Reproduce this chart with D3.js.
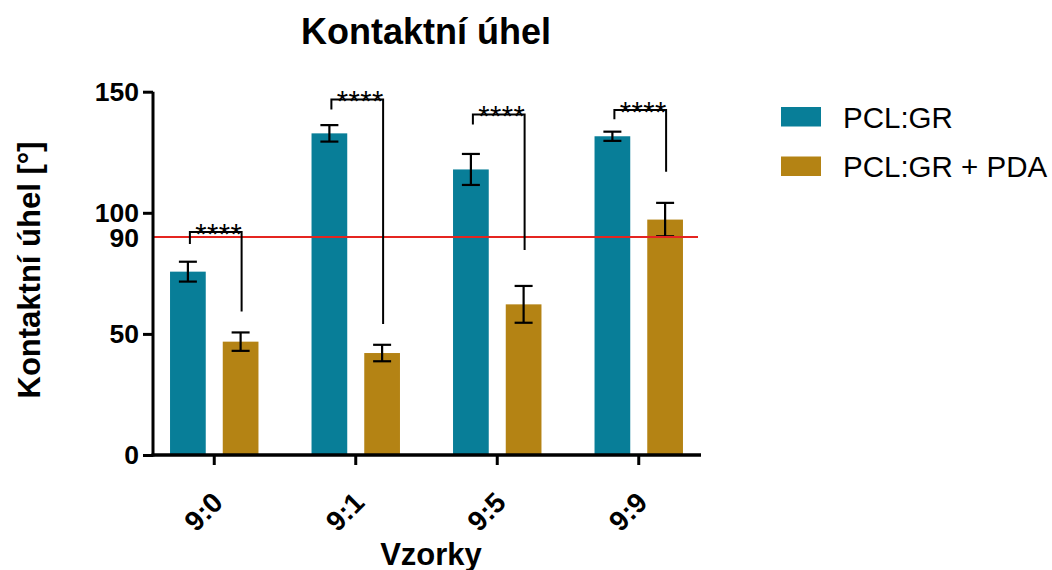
<!DOCTYPE html>
<html><head><meta charset="utf-8">
<script src="https://cdn.jsdelivr.net/npm/d3@7/dist/d3.min.js"></script>
<style>body{margin:0;background:#fff}svg{display:block}text{font-family:"Liberation Sans",Arial,sans-serif}</style>
</head><body>
<svg id="c" width="1052" height="570"></svg>
<script>
const categories = ["9:0", "9:1", "9:5", "9:9"];
const seriesNames = ["PCL:GR", "PCL:GR + PDA"];
const meanPCL = [75.7, 132.8, 117.9, 131.6];
const errPCL = [4.1, 3.4, 6.4, 1.9];
const meanPDA = [46.8, 42.1, 62.2, 97.2];
const errPDA = [3.8, 3.4, 7.6, 6.9];
const yTicks = [0, 50, 100, 150];
const refValue = 90;
const sigLabels = ["****", "****", "****", "****"];
const bracketTop = [92.1, 146.8, 140.6, 142.4];
const bracketLeftEnd = [87.1, 142.7, 136.5, 138.6];
const bracketRightEnd = [59.2, 54.1, 84.6, 117.0];
const colors = ["#087E98", "#B48314"];

const svg = d3.select("#c");
const y = d3.scaleLinear().domain([0, 150]).range([455, 91.7]);
const x0 = d3.scaleBand().domain(categories).range([143.5, 709.5]).paddingInner(0.375).paddingOuter(0.1875);
const x1 = d3.scaleBand().domain(seriesNames).range([0, x0.bandwidth()]).paddingInner(0.3226);

const rows = categories.map((c, i) => ({c, vals: [
  {s: seriesNames[0], m: meanPCL[i], e: errPCL[i]},
  {s: seriesNames[1], m: meanPDA[i], e: errPDA[i]}]}));

const g = svg.append("g");
const grp = g.selectAll("g.grp").data(rows).join("g").attr("transform", d => `translate(${x0(d.c)},0)`);
grp.selectAll("rect").data(d => d.vals).join("rect")
  .attr("x", d => x1(d.s)).attr("width", x1.bandwidth())
  .attr("y", d => y(d.m)).attr("height", d => y(0) - y(d.m))
  .attr("fill", (d, i) => colors[i]);

// reference line
g.append("line").attr("x1", 153).attr("x2", 698).attr("y1", y(refValue)).attr("y2", y(refValue))
  .attr("stroke", "#E52520").attr("stroke-width", 2);

// error bars
const eb = grp.selectAll("g.eb").data(d => d.vals).join("g")
  .attr("transform", d => `translate(${x1(d.s) + x1.bandwidth() / 2},0)`)
  .attr("stroke", "#000").attr("stroke-width", 2.2);
eb.append("line").attr("y1", d => y(d.m - d.e)).attr("y2", d => y(d.m + d.e));
eb.append("line").attr("x1", -9).attr("x2", 9).attr("y1", d => y(d.m - d.e)).attr("y2", d => y(d.m - d.e));
eb.append("line").attr("x1", -9).attr("x2", 9).attr("y1", d => y(d.m + d.e)).attr("y2", d => y(d.m + d.e));

// significance brackets
categories.forEach((c, i) => {
  const xl = x0(c) + x1(seriesNames[0]) + x1.bandwidth() / 2 + 2;
  const xr = x0(c) + x1(seriesNames[1]) + x1.bandwidth() / 2 + 1;
  g.append("path")
    .attr("d", `M${xl},${y(bracketLeftEnd[i])}V${y(bracketTop[i])}H${xr}V${y(bracketRightEnd[i])}`)
    .attr("fill", "none").attr("stroke", "#000").attr("stroke-width", 2);
  g.append("text").attr("x", (xl + xr) / 2 + 3).attr("y", y(bracketTop[i]) + 12)
    .attr("text-anchor", "middle").attr("font-size", 29).attr("letter-spacing", 0.5)
    .text(sigLabels[i]);
});

// y axis
const yAxis = d3.axisLeft(y).tickValues(yTicks).tickSize(10).tickPadding(4).tickFormat(d3.format("d"));
const ya = svg.append("g").attr("transform", "translate(153,0)").call(yAxis);
ya.select(".domain").attr("d", `M0,${y(150)}V${y(0) + 1.5}`).attr("stroke-width", 3);
ya.selectAll(".tick line").attr("stroke-width", 3);
ya.selectAll("text").attr("font-size", 26.5).attr("font-weight", "bold").attr("fill", "#000");
svg.append("text").attr("x", 139).attr("y", y(refValue)).attr("dy", "0.36em")
  .attr("text-anchor", "end").attr("font-size", 26.5).attr("font-weight", "bold").text(refValue);

// x axis
const xAxis = d3.axisBottom(x0).tickSize(10).tickFormat("").tickSizeOuter(0);
const xa = svg.append("g").attr("transform", `translate(0,${y(0)})`).call(xAxis);
xa.select(".domain").attr("d", `M151.5,0H701`).attr("stroke-width", 3.5);
xa.selectAll(".tick line").attr("stroke-width", 3);
xa.selectAll(".tick").append("text")
  .attr("transform", "translate(-4,35) rotate(-45)")
  .attr("text-anchor", "end").attr("dy", "0.72em").attr("fill", "#000")
  .attr("font-size", 28).attr("font-weight", "bold").text(d => d);

// titles
svg.append("text").attr("x", 426).attr("y", 44).attr("text-anchor", "middle")
  .attr("font-size", 36).attr("font-weight", "bold").text("Kontaktní úhel");
svg.append("text").attr("transform", "translate(40,270) rotate(-90)").attr("text-anchor", "middle")
  .attr("font-size", 31).attr("font-weight", "bold").text("Kontaktní úhel [°]");
svg.append("text").attr("x", 431).attr("y", 565).attr("text-anchor", "middle")
  .attr("font-size", 31).attr("font-weight", "bold").text("Vzorky");

// legend
const lg = svg.append("g").selectAll("g").data(seriesNames).join("g")
  .attr("transform", (d, i) => `translate(781,${107 + i * 49.5})`);
lg.append("rect").attr("width", 40).attr("height", 19.5).attr("fill", (d, i) => colors[i]);
lg.append("text").attr("x", 62).attr("y", 10).attr("dy", "0.36em").attr("font-size", 29.5).text(d => d);
</script>
</body></html>
